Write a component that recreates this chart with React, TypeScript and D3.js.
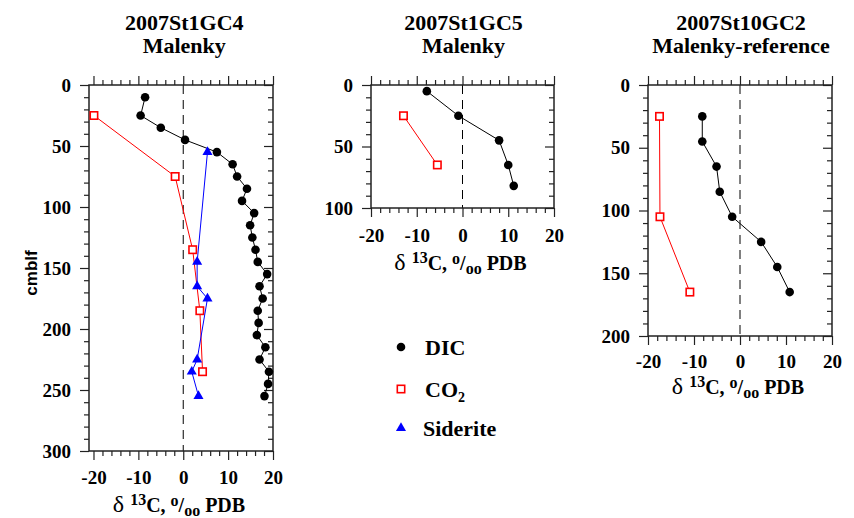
import React, { useEffect, useRef } from 'react';
import * as d3 from 'd3';

// 2007St1GC4 (Malenky)
const gc4DicDepth = [10, 25, 35, 45, 55, 65, 75, 85, 95, 105, 115, 125, 135, 145, 155, 165, 175, 185, 195, 205, 215, 225, 235, 245, 255];
const gc4DicValues = [-8.5, -9.5, -5.0, 0.4, 7.5, 11.0, 12.0, 14.2, 13.1, 15.8, 14.9, 15.4, 16.1, 16.6, 18.7, 17.0, 17.7, 16.6, 16.8, 16.4, 18.3, 17.0, 19.1, 18.9, 18.1];
const gc4Co2Depth = [25, 75, 135, 185, 235];
const gc4Co2Values = [-19.9, -1.8, 2.1, 3.7, 4.3];
const gc4SidDepth = [55, 145, 165, 175, 225, 235, 255];
const gc4SidValues = [5.4, 3.1, 3.1, 5.4, 3.1, 1.9, 3.4];

// 2007St1GC5 (Malenky)
const gc5DicDepth = [5, 25, 45, 65, 82];
const gc5DicValues = [-7.8, -0.9, 8.0, 10.0, 11.2];
const gc5Co2Depth = [25, 65];
const gc5Co2Values = [-12.9, -5.5];

// 2007St10GC2 (Malenky-reference)
const gc2DicDepth = [25, 45, 65, 85, 105, 125, 145, 165];
const gc2DicValues = [-8.2, -8.2, -5.1, -4.4, -1.7, 4.6, 8.1, 10.8];
const gc2Co2Depth = [25, 105, 165];
const gc2Co2Values = [-17.5, -17.4, -10.9];

const xTickValues = [-20, -10, 0, 10, 20];
const legendLabels = ['DIC', 'CO', 'Siderite'];

const SERIF = "'Liberation Serif', 'DejaVu Serif', Times, serif";
const SANS = "'Liberation Sans', Arial, sans-serif";

type Kind = 'dic' | 'co2' | 'sid';
type Series = { kind: Kind; depth: number[]; values: number[] };
type Panel = {
  title: string[];
  xDomain: [number, number];
  yMax: number;
  left: number; right: number; top: number; bottom: number;
  tickPad: number; labelOffset: number;
  series: Series[];
};

const panels: Panel[] = [
  {
    title: ['2007St1GC4', 'Malenky'],
    xDomain: [-21, 20], yMax: 300,
    left: 89, right: 273, top: 85, bottom: 451,
    tickPad: 11, labelOffset: 61,
    series: [
      { kind: 'dic', depth: gc4DicDepth, values: gc4DicValues },
      { kind: 'co2', depth: gc4Co2Depth, values: gc4Co2Values },
      { kind: 'sid', depth: gc4SidDepth, values: gc4SidValues },
    ],
  },
  {
    title: ['2007St1GC5', 'Malenky'],
    xDomain: [-20, 20], yMax: 100,
    left: 371, right: 554, top: 85, bottom: 208,
    tickPad: 12, labelOffset: 62,
    series: [
      { kind: 'dic', depth: gc5DicDepth, values: gc5DicValues },
      { kind: 'co2', depth: gc5Co2Depth, values: gc5Co2Values },
    ],
  },
  {
    title: ['2007St10GC2', 'Malenky-reference'],
    xDomain: [-20, 20], yMax: 200,
    left: 648, right: 832, top: 85, bottom: 336,
    tickPad: 10, labelOffset: 58,
    series: [
      { kind: 'dic', depth: gc2DicDepth, values: gc2DicValues },
      { kind: 'co2', depth: gc2Co2Depth, values: gc2Co2Values },
    ],
  },
];

const color: Record<Kind, string> = { dic: '#000', co2: '#ff0000', sid: '#0000ff' };

function drawMarker(g: any, kind: Kind, cx: number, cy: number) {
  if (kind === 'dic') {
    g.append('circle').attr('cx', cx).attr('cy', cy).attr('r', 4.3).attr('fill', '#000');
  } else if (kind === 'co2') {
    g.append('rect').attr('x', cx - 3.7).attr('y', cy - 3.7).attr('width', 7.4).attr('height', 7.4)
      .attr('fill', '#fff').attr('stroke', color.co2).attr('stroke-width', 1.6);
  } else {
    g.append('path').attr('d', d3.symbol(d3.symbolTriangle, 44)())
      .attr('transform', `translate(${cx},${cy})`).attr('fill', color.sid);
  }
}

function styleAxis(sel: any, withText: boolean) {
  sel.select('.domain').remove();
  sel.selectAll('line').attr('stroke', '#222').attr('stroke-width', 1.2);
  if (withText) {
    sel.selectAll('text').style('font-family', SERIF).style('font-size', '19px')
      .style('font-weight', 'bold').attr('fill', '#000');
  }
}

const plain = (d: any) => String(d);

function drawPanel(svg: any, p: Panel) {
  const x = d3.scaleLinear().domain(p.xDomain).range([p.left, p.right]);
  const y = d3.scaleLinear().domain([0, p.yMax]).range([p.top, p.bottom]);
  const g = svg.append('g');

  const xMinor = d3.range(-20, 21, 2).filter(v => v % 10 !== 0);
  const yMajor = d3.range(0, p.yMax + 1, 50);
  const yMinor = d3.range(0, p.yMax + 1, 10).filter(v => v % 50 !== 0);

  // zero reference
  g.append('line')
    .attr('x1', x(0)).attr('x2', x(0)).attr('y1', p.top).attr('y2', p.bottom)
    .attr('stroke', '#000').attr('stroke-width', 1).attr('stroke-dasharray', '9,6');

  // bottom
  g.append('g').attr('transform', `translate(0,${p.bottom})`)
    .call(d3.axisBottom(x).tickValues(xTickValues).tickSize(9).tickPadding(p.tickPad).tickFormat(plain))
    .call((s: any) => styleAxis(s, true));
  g.append('g').attr('transform', `translate(0,${p.bottom})`)
    .call(d3.axisBottom(x).tickValues(xMinor).tickSize(5).tickFormat(() => ''))
    .call((s: any) => styleAxis(s, false));
  // top
  g.append('g').attr('transform', `translate(0,${p.top})`)
    .call(d3.axisTop(x).tickValues(xTickValues).tickSize(9).tickFormat(() => ''))
    .call((s: any) => styleAxis(s, false));
  g.append('g').attr('transform', `translate(0,${p.top})`)
    .call(d3.axisTop(x).tickValues(xMinor).tickSize(5).tickFormat(() => ''))
    .call((s: any) => styleAxis(s, false));
  // left
  g.append('g').attr('transform', `translate(${p.left},0)`)
    .call(d3.axisLeft(y).tickValues(yMajor).tickSize(9).tickPadding(9).tickFormat(plain))
    .call((s: any) => styleAxis(s, true));
  g.append('g').attr('transform', `translate(${p.left},0)`)
    .call(d3.axisLeft(y).tickValues(yMinor).tickSize(5).tickFormat(() => ''))
    .call((s: any) => styleAxis(s, false));
  // right (inward)
  g.append('g').attr('transform', `translate(${p.right},0)`)
    .call(d3.axisRight(y).tickValues(yMajor).tickSize(-9).tickFormat(() => ''))
    .call((s: any) => styleAxis(s, false));
  g.append('g').attr('transform', `translate(${p.right},0)`)
    .call(d3.axisRight(y).tickValues(yMinor).tickSize(-5).tickFormat(() => ''))
    .call((s: any) => styleAxis(s, false));

  g.append('rect')
    .attr('x', p.left).attr('y', p.top)
    .attr('width', p.right - p.left).attr('height', p.bottom - p.top)
    .attr('fill', 'none').attr('stroke', '#222').attr('stroke-width', 1.5);

  // series
  p.series.forEach(s => {
    const pts: [number, number][] = s.values.map((v, i) => [v, s.depth[i]]);
    const line = d3.line<[number, number]>().x(d => x(d[0])).y(d => y(d[1]));
    g.append('path').datum(pts).attr('d', line)
      .attr('fill', 'none').attr('stroke', color[s.kind]).attr('stroke-width', 1);
    pts.forEach(d => drawMarker(g, s.kind, x(d[0]), y(d[1])));
  });

  // titles
  const cx = x(0) + 1;
  p.title.forEach((t, i) => {
    g.append('text').attr('x', cx).attr('y', 30 + i * 23)
      .attr('text-anchor', 'middle')
      .style('font-family', SERIF).style('font-size', '22px').style('font-weight', 'bold')
      .text(t);
  });

  // x label
  const lbl = g.append('text').attr('x', (p.left + p.right) / 2 - 2).attr('y', p.bottom + p.labelOffset)
    .attr('text-anchor', 'middle')
    .style('font-family', SERIF).style('font-size', '20px').style('font-weight', 'bold');
  lbl.append('tspan').style('font-size', '24px').style('font-weight', 'normal').text('δ ');
  lbl.append('tspan').style('font-size', '16px').attr('dy', -7).text('13');
  lbl.append('tspan').attr('dy', 7).text('C, ');
  lbl.append('tspan').style('font-size', '16px').attr('dy', -6).text('o');
  lbl.append('tspan').attr('dy', 6).text('/');
  lbl.append('tspan').style('font-size', '16px').attr('dy', 4).text('oo');
  lbl.append('tspan').attr('dy', -4).text(' PDB');
}

function drawLegend(svg: any) {
  const g = svg.append('g');
  const kinds: Kind[] = ['dic', 'co2', 'sid'];
  const ys = [347, 389, 428];
  kinds.forEach((k, i) => {
    drawMarker(g, k, 401, ys[i]);
    const t = g.append('text').attr('x', k === 'sid' ? 423 : 425).attr('y', ys[i] + 8)
      .style('font-family', SERIF).style('font-size', '22px').style('font-weight', 'bold');
    t.append('tspan').text(legendLabels[i]);
    if (k === 'co2') t.append('tspan').style('font-size', '14px').attr('dy', 5).text('2');
  });
}

export default function App() {
  const ref = useRef<SVGSVGElement>(null);

  useEffect(() => {
    const svg = d3.select(ref.current);
    svg.selectAll('*').remove();
    panels.forEach(p => drawPanel(svg, p));
    drawLegend(svg);
    svg.append('text')
      .attr('transform', 'translate(31,273) rotate(-90)')
      .attr('text-anchor', 'middle').attr('dy', '0.35em')
      .style('font-family', SANS).style('font-size', '17px').style('font-weight', 'bold')
      .text('cmblf');
  }, []);

  return (
    <svg ref={ref} width={854} height={518}
      style={{ position: 'absolute', left: 0, top: 0, background: '#fff' }} />
  );
}
